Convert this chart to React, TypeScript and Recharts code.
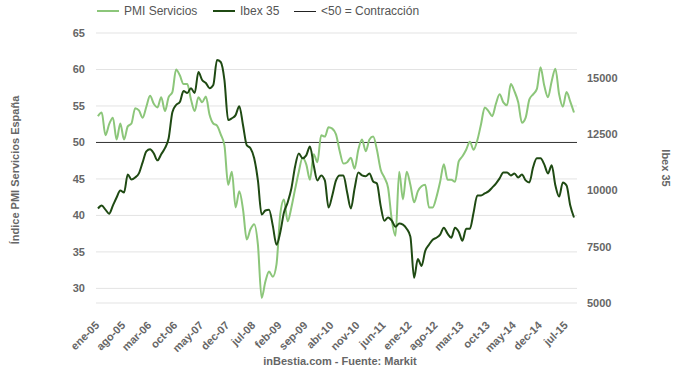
import React from "react";
import {
  LineChart,
  Line,
  XAxis,
  YAxis,
  CartesianGrid,
  ReferenceLine,
} from "recharts";

const PMI_COLOR = "#8cc67a";
const IBEX_COLOR = "#1f4a13";
const TEXT = "#666666";
const FONT = "'Liberation Sans', Arial, sans-serif";

// etiquetas del eje x, una cada 7 meses desde ene-05
const TICK_LABELS = [
  "ene-05", "ago-05", "mar-06", "oct-06", "may-07", "dec-07", "jul-08",
  "feb-09", "sep-09", "abr-10", "nov-10", "jun-11", "ene-12", "ago-12",
  "mar-13", "oct-13", "may-14", "dec-14", "jul-15",
];

// PMI servicios España, mensual ene-05 .. sep-15
const PMI = [
  53.6, 54.1, 51.0, 52.5, 53.4, 50.4, 52.6, 50.4, 52.2, 52.6,
  54.7, 54.4, 53.4, 54.9, 56.4, 55.3, 54.8, 56.2, 54.3, 56.2,
  56.9, 60.0, 59.2, 58.0, 58.0, 55.9, 54.3, 56.2, 55.5, 56.3,
  53.8, 52.6, 52.3, 51.1, 49.6, 44.2, 46.0, 41.1, 43.3, 40.8,
  36.7, 38.1, 38.8, 36.0, 28.7, 30.9, 32.3, 31.6, 33.3, 40.1,
  42.2, 39.2, 41.1, 43.6, 46.0, 47.9, 47.0, 44.9, 48.4, 47.3,
  51.0, 50.8, 52.1, 51.9, 51.1, 48.8, 47.1, 47.3, 47.9, 46.4,
  49.0, 50.4, 48.8, 50.4, 50.8, 49.0, 46.3, 45.2, 43.8, 39.4,
  37.2, 46.0, 42.2, 46.0, 44.2, 41.8, 43.3, 44.0, 44.2, 41.1,
  41.1, 42.5, 44.6, 47.0, 44.9, 44.9, 44.6, 47.4, 48.1, 49.0,
  50.1, 49.0, 50.3, 52.5, 54.8, 54.3, 53.6, 55.3, 56.6, 55.5,
  55.1, 58.0, 57.0, 55.5, 52.7, 53.4, 55.9, 56.6, 57.3, 60.3,
  57.8, 56.2, 58.4, 60.1, 56.6, 54.9, 56.9, 55.6, 54.1,
];

// Ibex 35, mismo periodo
const IBEX = [
  9200, 9330, 9150, 8970, 9330, 9690, 10000, 9910, 10710, 10490,
  10580, 10760, 11250, 11740, 11830, 11650, 11340, 11610, 11880, 12320,
  13480, 13800, 13930, 14420, 14330, 14550, 14330, 15270, 14910, 14780,
  14550, 14690, 15800, 15710, 14910, 13130, 13210, 13350, 13750, 12900,
  12010, 11880, 11430, 10450, 8930, 9110, 9150, 8440, 7590, 8130,
  9020, 9470, 10090, 11070, 11650, 11430, 11560, 11960, 11120, 10450,
  10670, 10450, 9240, 9780, 10450, 10670, 10670, 9910, 9200, 10090,
  10800, 10670, 10630, 10760, 10400, 10310, 9330, 8660, 8800, 8660,
  8390, 8530, 8480, 8300, 7950, 6120, 6960, 6650, 7320, 7590,
  7810, 7900, 8040, 8350, 8080, 7900, 8350, 8170, 7770, 8300,
  8300, 9020, 9780, 9780, 9870, 9960, 10130, 10310, 10540, 10800,
  10800, 10670, 10760, 10580, 10710, 10450, 10360, 11030, 11430, 11430,
  11160, 10760, 11120, 10220, 9730, 10360, 10220, 9330, 8800,
];

const PMI_TICKS = [30, 35, 40, 45, 50, 55, 60, 65];
const IBEX_TICKS = [5000, 7500, 10000, 12500, 15000];

const data = PMI.map((v, i) => ({ i, pmi: v, ibex: IBEX[i] }));

const XTick = (props: any) => {
  const { x, y, payload } = props;
  return (
    <g transform={`translate(${x + 2},${y + 23})`}>
      <text
        x={0}
        y={0}
        textAnchor="end"
        transform="rotate(-45)"
        fill={TEXT}
        fontSize={11}
        fontWeight="bold"
        fontFamily={FONT}
      >
        {TICK_LABELS[Math.round(payload.value / 7)]}
      </text>
    </g>
  );
};

const tickStyle = {
  fontSize: 11,
  fill: TEXT,
  fontWeight: "bold" as const,
  fontFamily: FONT,
};

function LegendItem({
  left,
  color,
  thick,
  label,
}: {
  left: number;
  color: string;
  thick: number;
  label: string;
}) {
  return (
    <div
      style={{
        position: "absolute",
        left,
        top: 3,
        height: 16,
        display: "flex",
        alignItems: "center",
        fontSize: 12,
        color: "#555",
        fontFamily: FONT,
        whiteSpace: "nowrap",
      }}
    >
      <span
        style={{
          display: "inline-block",
          width: 22,
          height: thick,
          background: color,
          marginRight: 5,
        }}
      />
      {label}
    </div>
  );
}

export default function App() {
  return (
    <div
      style={{
        position: "absolute",
        left: 0,
        top: 0,
        width: 680,
        height: 379,
        background: "#fff",
        fontFamily: FONT,
      }}
    >
      <LineChart
        width={680}
        height={379}
        data={data}
        margin={{ top: 33, right: 0, bottom: 0, left: 0 }}
      >
        <CartesianGrid
          yAxisId="left"
          vertical={false}
          stroke="#e3e3e3"
          strokeWidth={1}
        />
        <XAxis
          dataKey="i"
          type="number"
          domain={[0, 128]}
          ticks={TICK_LABELS.map((_, k) => k * 7)}
          tick={<XTick />}
          interval={0}
          axisLine={false}
          tickLine={false}
          tickSize={0}
          tickMargin={0}
          height={76}
          padding={{ left: 2, right: 3 }}
        />
        <YAxis
          yAxisId="left"
          domain={[28, 65]}
          ticks={PMI_TICKS}
          width={96}
          axisLine={false}
          tickLine={false}
          tickSize={0}
          tickMargin={11}
          tick={tickStyle}
        />
        <YAxis
          yAxisId="right"
          orientation="right"
          domain={[5000, 17000]}
          ticks={IBEX_TICKS}
          width={103}
          axisLine={false}
          tickLine={false}
          tickSize={0}
          tickMargin={10}
          tick={{ ...tickStyle, textAnchor: "start" }}
        />
        <ReferenceLine yAxisId="left" y={50} stroke="#333" strokeWidth={1} />
        <Line
          yAxisId="left"
          type="monotone"
          dataKey="pmi"
          stroke={PMI_COLOR}
          strokeWidth={2}
          dot={false}
          isAnimationActive={false}
        />
        <Line
          yAxisId="right"
          type="monotone"
          dataKey="ibex"
          stroke={IBEX_COLOR}
          strokeWidth={2}
          dot={false}
          isAnimationActive={false}
        />
      </LineChart>

      <LegendItem left={97} color={PMI_COLOR} thick={2} label="PMI Servicios" />
      <LegendItem left={213} color={IBEX_COLOR} thick={2} label="Ibex 35" />
      <LegendItem left={294} color="#222" thick={1} label="<50 = Contracción" />

      <div
        style={{
          position: "absolute",
          left: 15,
          top: 170,
          transform: "translate(-50%, -50%) rotate(-90deg)",
          fontSize: 11,
          fontWeight: "bold",
          color: TEXT,
          whiteSpace: "nowrap",
        }}
      >
        Índice PMI Servicios España
      </div>
      <div
        style={{
          position: "absolute",
          left: 666,
          top: 168,
          transform: "translate(-50%, -50%) rotate(90deg)",
          fontSize: 11,
          fontWeight: "bold",
          color: TEXT,
          whiteSpace: "nowrap",
        }}
      >
        Ibex 35
      </div>
      <div
        style={{
          position: "absolute",
          left: 0,
          width: 680,
          top: 355,
          textAlign: "center",
          fontSize: 11,
          fontWeight: "bold",
          color: TEXT,
        }}
      >
        inBestia.com - Fuente: Markit
      </div>
    </div>
  );
}
